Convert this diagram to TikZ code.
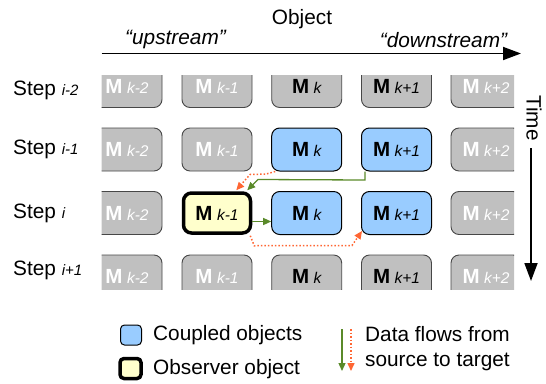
\documentclass[tikz,border=0pt]{standalone}
\usepackage{fontspec}
\setmainfont{Liberation Sans}
\usetikzlibrary{arrows.meta,calc}
\definecolor{boxgray}{HTML}{C0C0C0}
\definecolor{boxedge}{HTML}{474747}
\definecolor{cblue}{HTML}{99CCFF}
\definecolor{cyellow}{HTML}{FFFFCC}
\definecolor{fgreen}{HTML}{5A8A2A}
\definecolor{forange}{HTML}{FF6633}
\newcommand\Mlab[1]{\textbf{M}\hspace{4.5pt}{\fontsize{15.5}{18}\selectfont\itshape #1}}
\newcommand\Slab[1]{Step {\fontsize{15}{18}\selectfont\itshape #1}}
\tikzset{
  base/.style={rounded corners=8pt, minimum width=70pt, minimum height=43pt, inner sep=0pt, font=\fontsize{20.5}{24}\selectfont},
  gbox/.style={base, draw=boxedge, fill=boxgray, line width=0.9pt},
  gw/.style={gbox, text=white},
  gk/.style={gbox, text=black},
  bbox/.style={base, draw=black, fill=cblue, line width=1pt},
  obox/.style={base, draw=black, fill=cyellow, line width=3.5pt, minimum width=67pt, minimum height=40pt},
  lbl/.style={font=\fontsize{20.8}{24}\selectfont, inner sep=0pt},
  gflow/.style={draw=fgreen, line width=1.3pt, -{Triangle[length=8pt,width=7pt]}},
  oflow/.style={draw=forange, line width=1.5pt, dotted, -{Triangle[length=8pt,width=7pt]}},
  bigarrow/.style={line width=1.8pt, -{Triangle[length=18pt,width=13pt]}}
}
\begin{document}
\begin{tikzpicture}[x=1pt,y=-1pt]
\useasboundingbox (0,0) rectangle (546,383);

% header
\node[lbl] (obj) at (302,19) {Object};
\node[lbl] (up) at (175.5,40) {\itshape “upstream”};
\node[lbl] (down) at (443.5,40) {\itshape “downstream”};
\coordinate (oa) at (101.5,53.5);
\coordinate (ob) at (521,53.5);
\draw[bigarrow] (oa) -- (ob);

% time
\node[lbl, rotate=-90] (time) at (534,118) {Time};
\coordinate (ta) at (531,148);
\coordinate (tb) at (531,281);
\draw[bigarrow] (ta) -- (tb);

% step labels
\node[lbl, anchor=west] (s1) at (13,90.5) {\Slab{i-2}};
\node[lbl, anchor=west] (s2) at (13,149.5) {\Slab{i-1}};
\node[lbl, anchor=west] (s3) at (13,213) {\Slab{i}};
\node[lbl, anchor=west] (s4) at (13,270) {\Slab{i+1}};

\begin{scope}
\clip (101.5,75) rectangle (514,289);
% row 1
\node[gw] (b11) at (127,86) {\Mlab{k-2}};
\node[gw] (b12) at (217,86) {\Mlab{k-1}};
\node[gk] (b13) at (306.7,86) {\Mlab{k}};
\node[gk] (b14) at (396.5,86) {\Mlab{k+1}};
\node[gw] (b15) at (486,86) {\Mlab{k+2}};
% row 2
\node[gw] (b21) at (127,149.5) {\Mlab{k-2}};
\node[gw] (b22) at (217,149.5) {\Mlab{k-1}};
\node[bbox] (b23) at (306.7,149.5) {\Mlab{k}};
\node[bbox] (b24) at (396.5,149.5) {\Mlab{k+1}};
\node[gw] (b25) at (486,149.5) {\Mlab{k+2}};
% row 3
\node[gw] (b31) at (127,213) {\Mlab{k-2}};
\node[obox] (b32) at (217,213) {\Mlab{k-1}};
\node[bbox] (b33) at (306.7,213) {\Mlab{k}};
\node[bbox] (b34) at (396.5,213) {\Mlab{k+1}};
\node[gw] (b35) at (486,213) {\Mlab{k+2}};
% row 4
\node[gw] (b41) at (127,276.5) {\Mlab{k-2}};
\node[gw] (b42) at (217,276.5) {\Mlab{k-1}};
\node[gk] (b43) at (306.7,276.5) {\Mlab{k}};
\node[gk] (b44) at (396.5,276.5) {\Mlab{k+1}};
\node[gw] (b45) at (486,276.5) {\Mlab{k+2}};
\end{scope}

% flows
\draw[gflow] ($(b24.south west)+(4,0)$) -- ++(0,8.5) -- (258,179.5) -- ($(b32.north east)+(-5,-1)$);
\draw[gflow] ($(b32.east)+(0,8.5)$) -- ($(b33.west)+(0,8.5)$);
\draw[oflow] ($(b23.south west)+(4,0)$) -- ++(-9,2.5) -- (250,174.5) -- ($(b32.north east)+(-16,-1)$);
\draw[oflow] ($(b32.south east)+(-2,1)$) -- ++(4,10) -- (352,245.5) -- ($(b34.south west)+(1,-4)$);

% legend
\node[base, draw=black, fill=cblue, line width=1pt, minimum width=21pt, minimum height=20pt, rounded corners=4pt] (lb) at (131,335) {};
\node[base, draw=black, fill=cyellow, line width=3.5pt, minimum width=21pt, minimum height=20pt, rounded corners=4pt] (ly) at (130.5,368.5) {};
\node[lbl, anchor=west] (lbt) at (153,335) {Coupled objects};
\node[lbl, anchor=west] (lyt) at (153,369) {Observer object};
\coordinate (ga) at (342,329);
\coordinate (gb) at (342,371);
\coordinate (oa2) at (351,329);
\coordinate (ob2) at (351,371);
\draw[gflow] (ga) -- (gb);
\draw[oflow] (oa2) -- (ob2);
\node[lbl, anchor=west, align=left] (dft) at (365,349) {Data flows from\\[1pt]source to target};
\end{tikzpicture}
\end{document}
